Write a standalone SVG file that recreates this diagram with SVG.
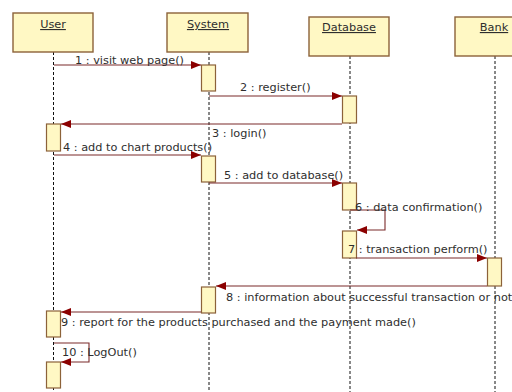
<svg xmlns="http://www.w3.org/2000/svg" width="512" height="392" viewBox="0 0 512 392">
<style>
.box{fill:#FFF8C4;stroke:#8C6239;stroke-width:1.4}
.act{fill:#FFF8C4;stroke:#8C6239;stroke-width:1.2}
.life{stroke:#111;stroke-width:1;stroke-dasharray:3,2;fill:none}
.msg{stroke:#7B2A2A;stroke-width:1.1;fill:none}
.t{font-family:"DejaVu Sans",Verdana,sans-serif;font-size:11.3px;fill:#2E2E2E}
.h{font-family:"DejaVu Sans",Verdana,sans-serif;font-size:11.3px;fill:#2E2E2E;text-anchor:middle;text-decoration:underline}
</style>
<defs>
<marker id="ah" markerUnits="userSpaceOnUse" markerWidth="11" markerHeight="9" refX="10" refY="4" orient="auto">
<path d="M0,0 L10,4 L0,8 z" fill="#8B0000"/>
</marker>
</defs>
<rect width="512" height="392" fill="#fff"/>
<g id="lifelines">
<line class="life" x1="53.5" y1="52" x2="53.5" y2="392"/>
<line class="life" x1="209" y1="52" x2="209" y2="392"/>
<line class="life" x1="350" y1="56" x2="350" y2="392"/>
<line class="life" x1="495" y1="56" x2="495" y2="392"/>
</g>
<g id="User">
<rect class="box" x="13" y="13" width="80" height="39"/>
<text class="h" x="53" y="28">User</text>
<rect class="act" x="46.5" y="124" width="14" height="27"/>
<rect class="act" x="46.5" y="311" width="14" height="26"/>
<rect class="act" x="46.5" y="362" width="14" height="26"/>
</g>
<g id="System">
<rect class="box" x="167" y="13" width="81" height="39"/>
<text class="h" x="208" y="28">System</text>
<rect class="act" x="201.5" y="65" width="14" height="26"/>
<rect class="act" x="201.5" y="156" width="14" height="26"/>
<rect class="act" x="201.5" y="287" width="14" height="26"/>
</g>
<g id="Database">
<rect class="box" x="309" y="17" width="80" height="39"/>
<text class="h" x="349" y="31">Database</text>
<rect class="act" x="342.5" y="96" width="14" height="27"/>
<rect class="act" x="342.5" y="183" width="14" height="27"/>
<rect class="act" x="342.5" y="231" width="14" height="27"/>
</g>
<g id="Bank">
<rect class="box" x="455" y="17" width="80" height="39"/>
<text class="h" x="494" y="31">Bank</text>
<rect class="act" x="487.5" y="258" width="14" height="28"/>
</g>
<g id="connectors">
<path class="msg" d="M54,65 H201" marker-end="url(#ah)"/>
<path class="msg" d="M209,96 H342" marker-end="url(#ah)"/>
<path class="msg" d="M342,124 H61" marker-end="url(#ah)"/>
<path class="msg" d="M54,155 H201" marker-end="url(#ah)"/>
<path class="msg" d="M209,183 H342" marker-end="url(#ah)"/>
<path class="msg" d="M350,210 H385 V230 H357" marker-end="url(#ah)"/>
<path class="msg" d="M356,258 H487" marker-end="url(#ah)"/>
<path class="msg" d="M487,286 H216" marker-end="url(#ah)"/>
<path class="msg" d="M201,312 H61" marker-end="url(#ah)"/>
<path class="msg" d="M54,343 H89 V362 H61" marker-end="url(#ah)"/>
</g>
<g id="labels">
<text class="t" x="75" y="64">1 : visit web page()</text>
<text class="t" x="240" y="91">2 : register()</text>
<text class="t" x="212" y="137">3 : login()</text>
<text class="t" x="63" y="151">4 : add to chart products()</text>
<text class="t" x="224" y="179">5 : add to database()</text>
<text class="t" x="355" y="211">6 : data confirmation()</text>
<text class="t" x="348" y="253">7 : transaction perform()</text>
<text class="t" x="226" y="301">8 : information about successful transaction or not()</text>
<text class="t" x="61" y="326">9 : report for the products purchased and the payment made()</text>
<text class="t" x="62" y="356">10 : LogOut()</text>
</g>
</svg>
